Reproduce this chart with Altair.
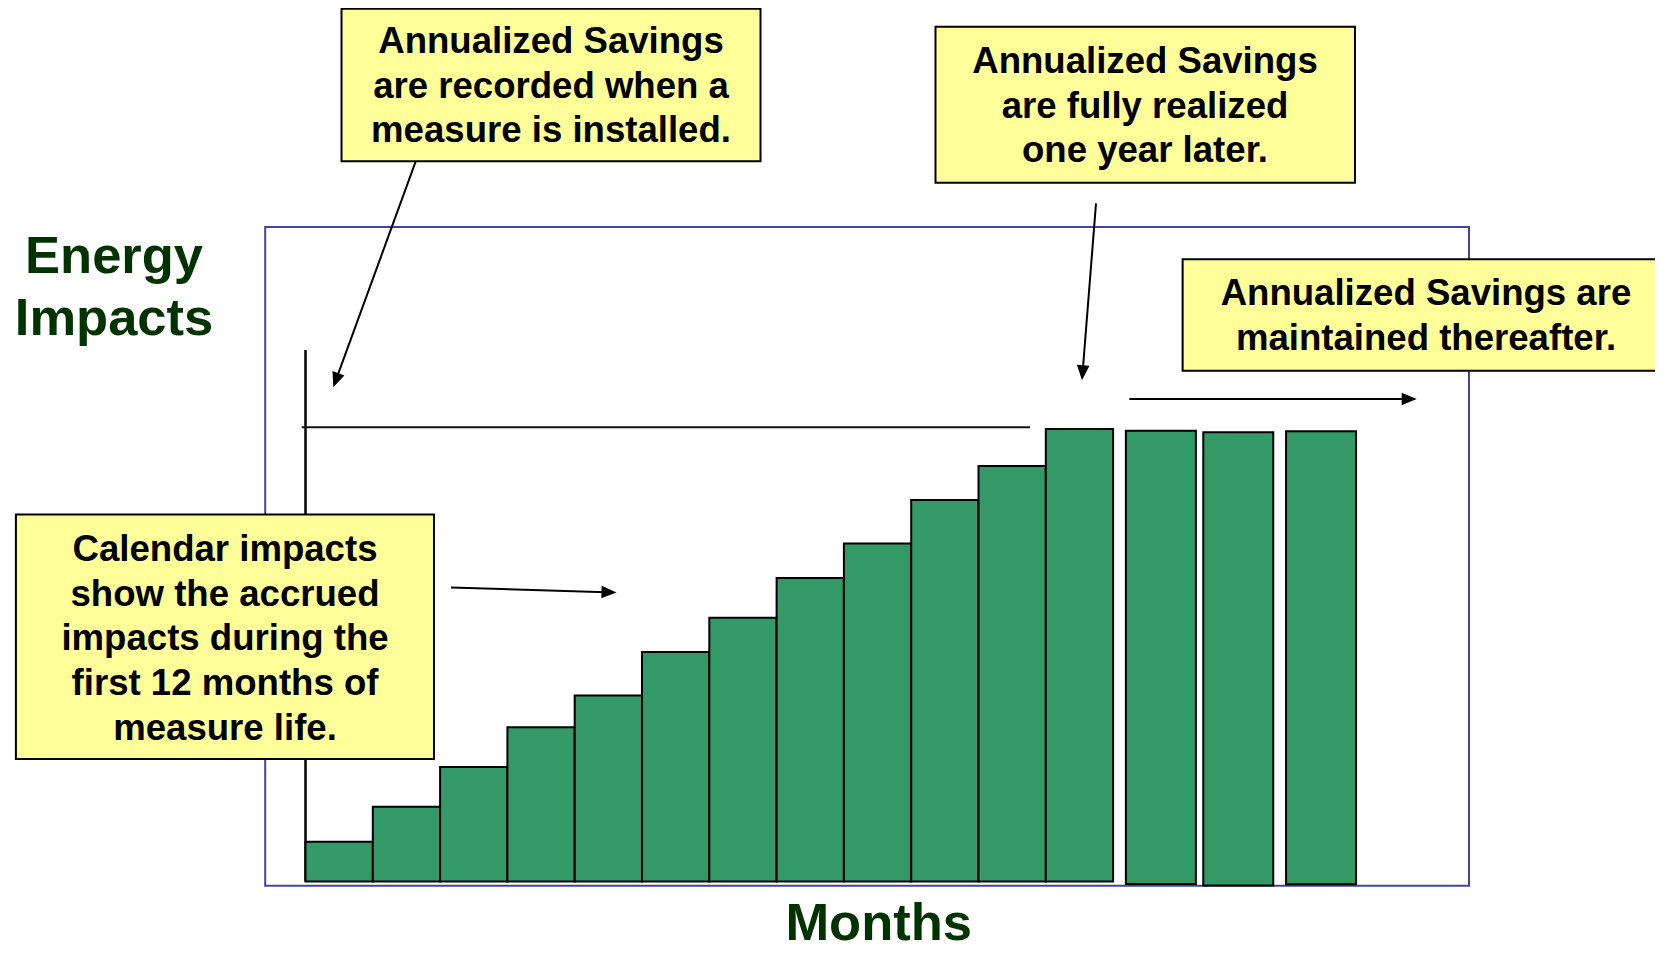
import math
import altair as alt
import pandas as pd

# ---------------- data ----------------
months_first_year = list(range(1, 13))
impact_first_year = [8.8, 16.5, 25.3, 34.1, 41.1, 50.7, 58.3, 67.1, 74.7, 84.3, 91.8, 100.0]
later_periods = ["13", "14", "15"]
later_start = [12.19, 13.34, 14.57]
later_end = [13.23, 14.38, 15.61]
later_impact = [99.6, 99.3, 99.5]
annualized_level = [100.4]

box1_lines = ["Annualized Savings", "are recorded when a", "measure is installed."]
box2_lines = ["Annualized Savings", "are fully realized", "one year later."]
box3_lines = ["Annualized Savings are", "maintained thereafter."]
box4_lines = ["Calendar impacts", "show the accrued", "impacts during the",
              "first 12 months of", "measure life."]
y_title_lines = ["Energy", "Impacts"]
x_title = ["Months"]

# ---------------- layout ----------------
W, H = 1647, 944
X_MIN, X_MAX = -4.4205, 20.052
Y_MIN, Y_MAX = -15.58, 193.04
XU = W / (X_MAX - X_MIN)   # px per month
YU = H / (Y_MAX - Y_MIN)   # px per energy unit

XS = alt.Scale(domain=[X_MIN, X_MAX], nice=False, zero=False)
YS = alt.Scale(domain=[Y_MIN, Y_MAX], nice=False, zero=False)

FONT = "Liberation Sans"
BOX_FILL = "#FFFF99"
BAR_FILL = "#339966"
FRAME = "#4343A6"
TITLE_GREEN = "#003300"


def xq(f):
    return alt.X(f, type="quantitative", scale=XS, axis=None)


def yq(f):
    return alt.Y(f, type="quantitative", scale=YS, axis=None)


# frame
frame_df = pd.DataFrame({"x0": [-0.599], "x1": [17.288], "y0": [-0.95], "y1": [144.64]})
frame = alt.Chart(frame_df).mark_rect(fill=None, fillOpacity=0, stroke=FRAME, strokeWidth=2).encode(
    x=xq("x0"), x2="x1", y=yq("y0"), y2="y1")

# axis lines
vline = alt.Chart(pd.DataFrame({"x": [0.0], "y0": [0.0], "y1": [117.46]})).mark_rule(
    color="black", strokeWidth=2.5).encode(x=xq("x"), y=yq("y0"), y2="y1")
hline = alt.Chart(pd.DataFrame({"x0": [-0.056], "x1": [10.765], "y": annualized_level})).mark_rule(
    color="#111111", strokeWidth=2).encode(x=xq("x0"), x2="x1", y=yq("y"))

# bars
bars_df = pd.DataFrame({
    "x0": [m - 1 for m in months_first_year] + later_start,
    "x1": [float(m) for m in months_first_year] + later_end,
    "y0": [0.0] * 12 + [-0.55, -0.9, -0.6],
    "y1": impact_first_year + later_impact,
})
bars = alt.Chart(bars_df).mark_rect(fill=BAR_FILL, stroke="black", strokeWidth=2).encode(
    x=xq("x0"), x2="x1", y=yq("y0"), y2="y1")

# annotation boxes
boxes_df = pd.DataFrame({
    "x0": [0.535, 9.361, 13.033, -4.303],
    "x1": [6.761, 15.594, 20.4, 1.909],
    "y0": [159.18, 154.43, 112.88, 27.07],
    "y1": [192.9, 188.9, 137.5, 81.13],
})
boxes = alt.Chart(boxes_df).mark_rect(fill=BOX_FILL, stroke="black", strokeWidth=2).encode(
    x=xq("x0"), x2="x1", y=yq("y0"), y2="y1")

# box texts
rows = []
for lines, cx, ys in [
    (box1_lines, 3.648, [183.03, 173.21, 163.49]),
    (box2_lines, 12.474, [178.61, 168.66, 158.94]),
    (box3_lines, 16.649, [127.4, 117.46]),
    (box4_lines, -1.196, [70.76, 60.91, 51.07, 41.22, 31.38]),
]:
    for t, yy in zip(lines, ys):
        rows.append({"x": cx, "y": yy, "t": t})
box_text = alt.Chart(pd.DataFrame(rows)).mark_text(
    font=FONT, fontSize=36.6, fontWeight="bold", color="black", align="center", baseline="alphabetic"
).encode(x=xq("x"), y=yq("y"), text="t:N")

# titles
title_rows = [{"x": -2.845, "y": 134.48, "t": y_title_lines[0]},
              {"x": -2.845, "y": 120.77, "t": y_title_lines[1]},
              {"x": 8.517, "y": -12.95, "t": x_title[0]}]
titles = alt.Chart(pd.DataFrame(title_rows)).mark_text(
    font=FONT, fontSize=52.5, fontWeight="bold", color=TITLE_GREEN, align="center", baseline="alphabetic"
).encode(x=xq("x"), y=yq("y"), text="t:N")

# arrows (start -> tip, in data units)
arrows = [
    ((1.639, 159.18), (0.413, 109.21)),
    ((11.746, 149.88), (11.538, 110.8)),
    ((12.241, 106.63), (16.511, 106.63)),
    ((2.162, 65.0), (4.621, 63.87)),
]
HEAD = 15.0
line_rows, head_rows = [], []
for (sx, sy), (tx, ty) in arrows:
    dxp = (tx - sx) * XU
    dyp = -(ty - sy) * YU
    L = math.hypot(dxp, dyp)
    ux, uy = dxp / L, dyp / L
    ex = tx - ux * HEAD * 0.7 / XU
    ey = ty + uy * HEAD * 0.7 / YU
    line_rows.append({"x0": sx, "y0": sy, "x1": ex, "y1": ey})
    ang = math.degrees(math.atan2(dxp, -dyp)) % 360
    head_rows.append({"x": tx, "y": ty, "a": ang})

arrow_lines = alt.Chart(pd.DataFrame(line_rows)).mark_rule(color="black", strokeWidth=2).encode(
    x=xq("x0"), x2="x1", y=yq("y0"), y2="y1")
arrow_heads = alt.Chart(pd.DataFrame(head_rows)).mark_point(
    shape="M0,0L-0.42,1L0.42,1Z", filled=True, fill="black", stroke=None, opacity=1,
    size=(2 * HEAD) ** 2
).encode(x=xq("x"), y=yq("y"), angle=alt.Angle("a:Q", scale=None))

chart = alt.layer(
    frame, vline, hline, bars, boxes, arrow_lines, arrow_heads, box_text, titles
).properties(
    width=W, height=H, padding=0,
    autosize=alt.AutoSizeParams(type="none"),
    background="white",
).configure_view(stroke=None)

chart.save("out.html", embed_options={"renderer": "svg", "actions": False})
